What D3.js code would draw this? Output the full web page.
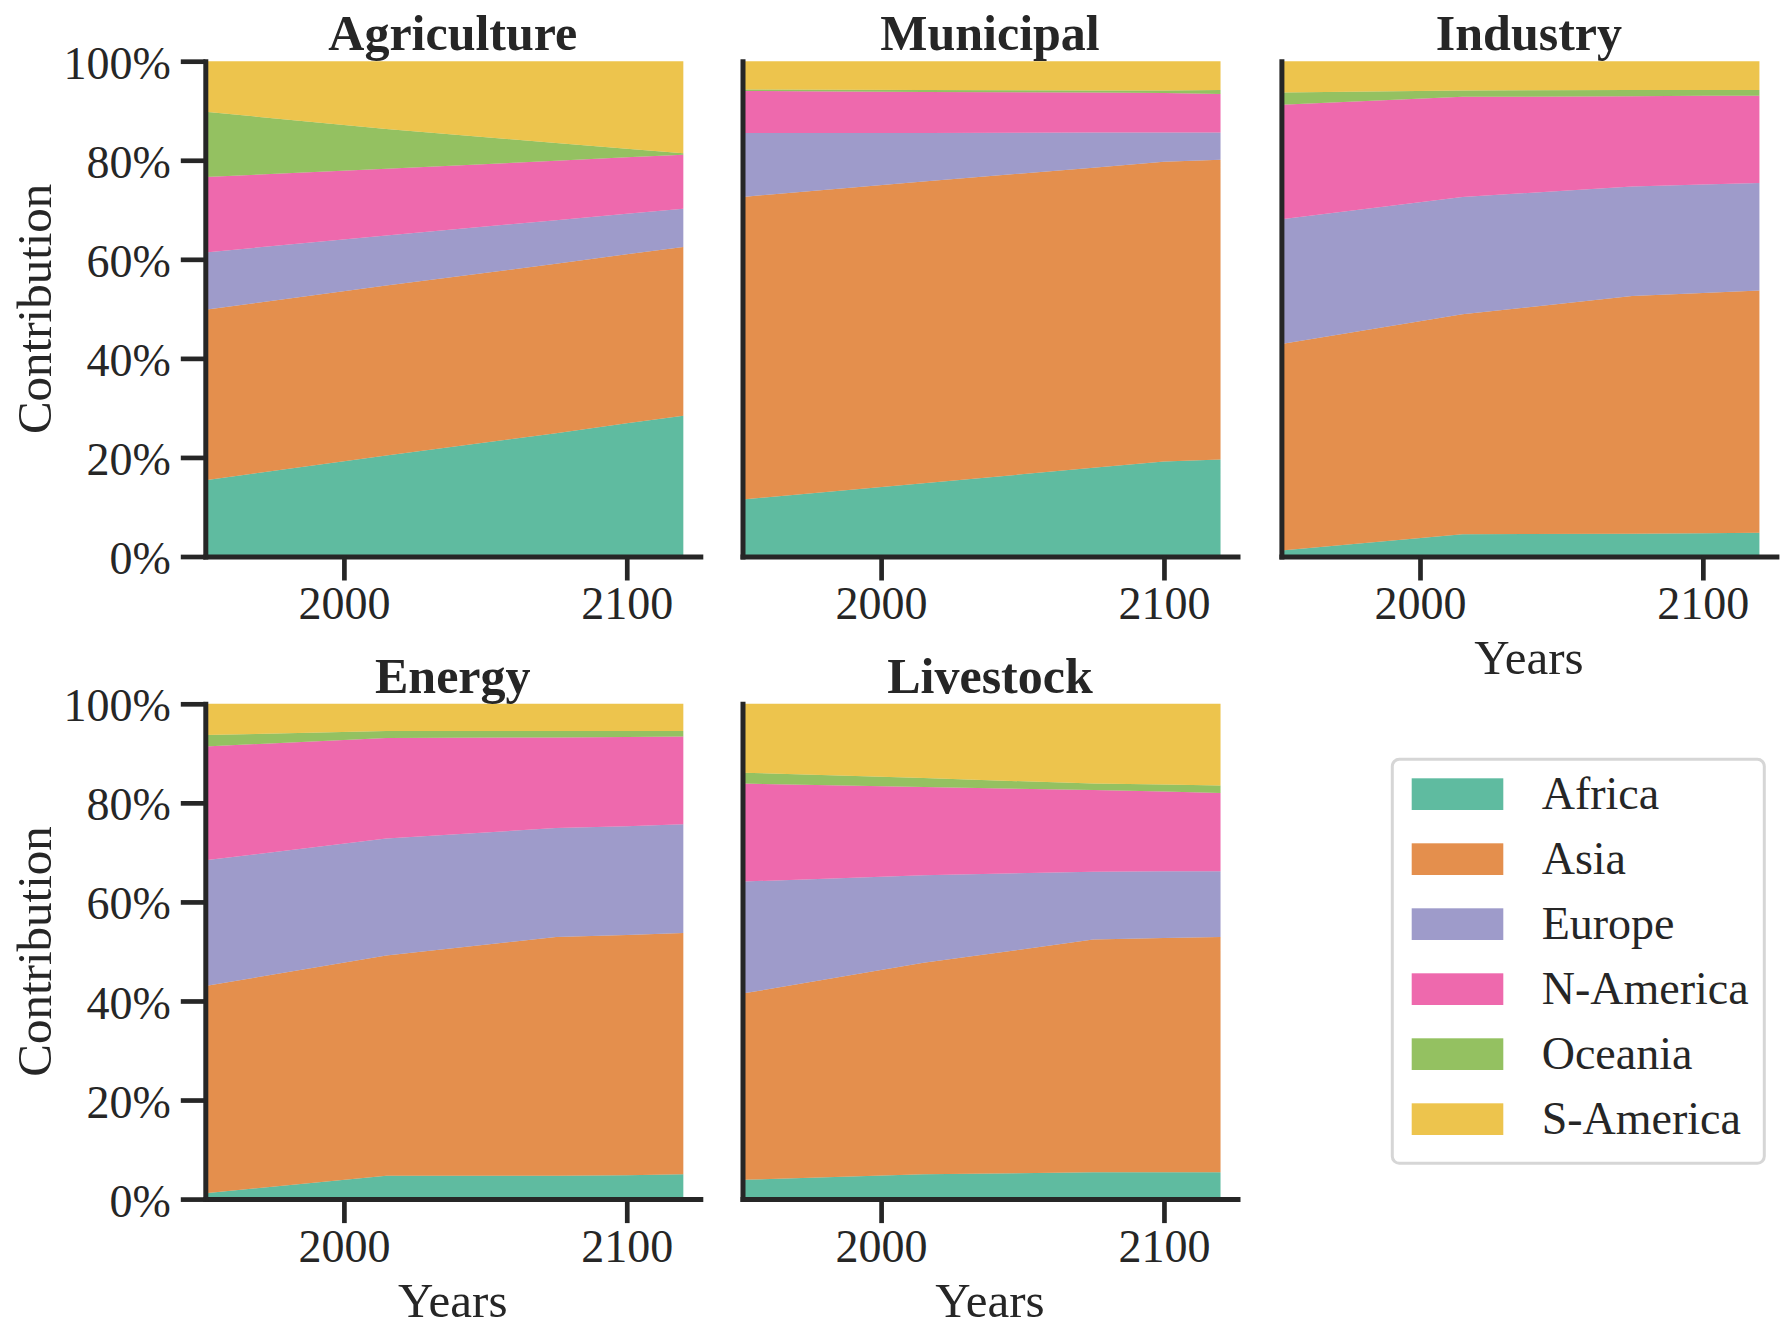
<!DOCTYPE html>
<html><head><meta charset="utf-8">
<script src="https://cdn.jsdelivr.net/npm/d3@7"></script>
<style>body{margin:0;background:#fff;} svg{display:block;}</style>
</head><body>
<svg id="chart" width="1789" height="1339"></svg>
<script>
// ---------- data ----------
const years = [1951, 2015, 2075, 2100, 2120];
const regions = ["Africa", "Asia", "Europe", "N-America", "Oceania", "S-America"];
const sectorNames = ["Agriculture", "Municipal", "Industry", "Energy", "Livestock"];
// share (%) per region, one row per year (rows follow `years`, columns follow `regions`)
const agricultureShares = [
  [15.4, 34.4, 11.6, 15.2, 13.2, 10.2],
  [20.4, 34.3, 10.1, 13.5, 8.0, 13.7],
  [24.9, 34.2, 8.8, 12.0, 3.6, 16.5],
  [26.9, 34.1, 8.2, 11.4, 1.7, 17.7],
  [28.4, 34.1, 7.7, 10.9, 0.3, 18.6]
];
const municipalShares = [
  [11.5, 61.1, 12.9, 8.5, 0.3, 5.7],
  [14.8, 60.9, 9.8, 8.3, 0.4, 5.8],
  [17.9, 60.6, 7.1, 8.1, 0.4, 5.9],
  [19.2, 60.5, 5.9, 8.0, 0.5, 5.9],
  [19.6, 60.5, 5.5, 7.8, 0.8, 5.8]
];
const industryShares = [
  [1.2, 41.7, 25.2, 23.1, 2.5, 6.3],
  [4.5, 44.4, 23.7, 20.2, 1.3, 5.9],
  [4.6, 48.0, 22.1, 18.2, 1.3, 5.8],
  [4.7, 48.5, 21.9, 17.9, 1.2, 5.8],
  [4.8, 48.9, 21.7, 17.6, 1.2, 5.8]
];
const energyShares = [
  [1.2, 41.8, 25.4, 23.0, 2.3, 6.3],
  [4.7, 44.5, 23.6, 20.3, 1.4, 5.5],
  [4.7, 48.2, 22.0, 18.3, 1.3, 5.5],
  [4.8, 48.5, 22.0, 18.0, 1.2, 5.5],
  [5.0, 48.7, 22.0, 17.7, 1.1, 5.5]
];
const livestockShares = [
  [3.9, 37.6, 22.6, 19.8, 2.2, 13.9],
  [5.0, 42.7, 17.7, 17.8, 1.8, 15.0],
  [5.4, 47.0, 13.7, 16.5, 1.3, 16.1],
  [5.4, 47.3, 13.5, 16.1, 1.4, 16.3],
  [5.4, 47.5, 13.3, 15.8, 1.5, 16.5]
];
const yTickValues = [0, 20, 40, 60, 80, 100];
const xTickValues = [2000, 2100];
const xDomain = [1951, 2126];

// ---------- layout ----------
const svg = d3.select("#chart");
const ink = "#262626";
const font = "'Liberation Serif', 'Times New Roman', serif";
const W = 495, H = 495.3;
const colX = [205.3, 742.5, 1281.4];
const rowY = [61.2, 703.8];
const panels = [
  {name: sectorNames[0], data: agricultureShares, col: 0, row: 0},
  {name: sectorNames[1], data: municipalShares, col: 1, row: 0},
  {name: sectorNames[2], data: industryShares, col: 2, row: 0},
  {name: sectorNames[3], data: energyShares, col: 0, row: 1},
  {name: sectorNames[4], data: livestockShares, col: 1, row: 1}
];
const color = d3.scaleOrdinal().domain(regions).range(d3.schemeDark2);

const x = d3.scaleLinear().domain(xDomain).range([0, W]);
const y = d3.scaleLinear().domain([0, 100]).range([H, 0]);

panels.forEach(p => {
  const g = svg.append("g").attr("transform", `translate(${colX[p.col]},${rowY[p.row]})`);
  const rows = years.map((yr, i) => {
    const o = {year: yr};
    regions.forEach((r, j) => o[r] = p.data[i][j]);
    return o;
  });
  const series = d3.stack().keys(regions)(rows);
  const area = d3.area()
    .x(d => x(d.data.year))
    .y0(d => y(d[0]))
    .y1(d => y(Math.min(100, d[1])));
  g.selectAll("path.area").data(series).join("path")
    .attr("class", "area")
    .attr("d", area)
    .attr("fill", d => color(d.key))
    .attr("fill-opacity", 0.7);

  // bottom axis
  const xa = g.append("g").attr("transform", `translate(0,${H})`)
    .call(d3.axisBottom(x).tickValues(xTickValues).tickFormat(d3.format("d"))
      .tickSize(24).tickSizeOuter(0).tickPadding(6));
  xa.select(".domain").attr("stroke", ink).attr("stroke-width", 5).attr("stroke-linecap", "square");
  xa.selectAll(".tick line").attr("stroke", ink).attr("stroke-width", 4.7);
  xa.selectAll(".tick text").attr("fill", ink).style("font-family", font).style("font-size", "46px");

  // left axis
  const ya = g.append("g")
    .call(d3.axisLeft(y).tickValues(yTickValues).tickFormat(d => d + "%")
      .tickSize(p.col === 0 ? 24.5 : 0).tickSizeOuter(0).tickPadding(10));
  ya.select(".domain").attr("stroke", ink).attr("stroke-width", 5).attr("stroke-linecap", "square");
  ya.selectAll(".tick line").attr("stroke", ink).attr("stroke-width", 4.7);
  if (p.col === 0) {
    ya.selectAll(".tick text").attr("fill", ink).attr("dy", "0.37em")
      .style("font-family", font).style("font-size", "46px");
  } else {
    ya.selectAll(".tick text").remove();
    ya.selectAll(".tick line").remove();
  }

  // title
  g.append("text").attr("x", W / 2).attr("y", -11).attr("text-anchor", "middle")
    .attr("fill", ink).style("font-family", font).style("font-size", "50px").style("font-weight", "bold")
    .text(p.name);

  // y label
  if (p.col === 0) {
    g.append("text").attr("transform", `translate(${51 - colX[0]},${H / 2}) rotate(-90)`)
      .attr("text-anchor", "middle").attr("fill", ink)
      .style("font-family", font).style("font-size", "49px").text("Contribution");
  }
  // x label
  if (p.row === 1 || p.col === 2) {
    g.append("text").attr("x", W / 2).attr("y", H + 118).attr("text-anchor", "middle")
      .attr("fill", ink).style("font-family", font).style("font-size", "49px").text("Years");
  }
});

// ---------- legend ----------
const lg = svg.append("g").attr("transform", "translate(1392.3,759.3)");
lg.append("rect").attr("width", 372).attr("height", 404).attr("rx", 7)
  .attr("fill", "#fff").attr("stroke", "#d6d6d6").attr("stroke-width", 3);
regions.forEach((r, i) => {
  const row = lg.append("g").attr("transform", `translate(0,${19 + i * 65})`);
  row.append("rect").attr("x", 19.4).attr("y", 0).attr("width", 91.6).attr("height", 31.7)
    .attr("fill", color(r)).attr("fill-opacity", 0.7);
  row.append("text").attr("x", 149.4).attr("y", 31).attr("fill", ink)
    .style("font-family", font).style("font-size", "46px").text(r);
});
</script>
</body></html>
